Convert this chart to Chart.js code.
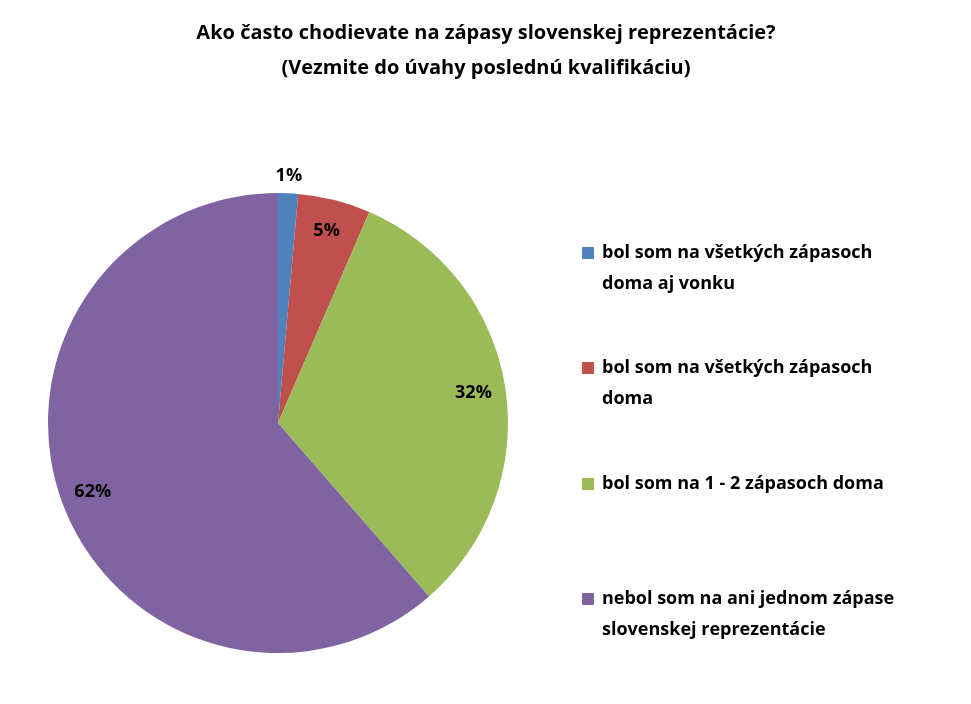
<!DOCTYPE html>
<html><head><meta charset="utf-8">
<script src="https://cdn.jsdelivr.net/npm/chart.js@4/dist/chart.umd.min.js"></script>
<style>html,body{margin:0;background:#fff}#wrap{width:971px;height:704px;position:relative}</style>
</head><body><div id="wrap"><canvas id="c"></canvas></div>
<script>
const titleLines = ['Ako často chodievate na zápasy slovenskej reprezentácie?', '(Vezmite do úvahy poslednú kvalifikáciu)'];
const categories = [
  ['bol som na všetkých zápasoch', 'doma aj vonku'],
  ['bol som na všetkých zápasoch', 'doma'],
  ['bol som na 1 - 2 zápasoch doma'],
  ['nebol som na ani jednom zápase', 'slovenskej reprezentácie']
];
const values = [1.4, 5.1, 32.1, 61.4];
const valueLabels = ['1%', '5%', '32%', '62%'];
const colors = ['#4f81bd', '#c0504d', '#9bbb59', '#8064a2'];

const FONT = '"Open Sans", "Liberation Sans", sans-serif';

const drawExtras = {
  id: 'drawExtras',
  afterDraw(chart) {
    const ctx = chart.ctx;
    ctx.save();
    ctx.fillStyle = '#000';
    ctx.textAlign = 'center';
    ctx.textBaseline = 'middle';
    ctx.font = 'bold 20px ' + FONT;
    titleLines.forEach((t, i) => ctx.fillText(t, 486, 33 + i * 35));

    // value labels
    ctx.font = 'bold 18px ' + FONT;
    chart.getDatasetMeta(0).data.forEach((arc, i) => {
      const p = arc.getProps(['x', 'y', 'startAngle', 'endAngle', 'outerRadius'], true);
      const mid = (p.startAngle + p.endAngle) / 2;
      const r = p.outerRadius * (i === 0 ? 1.075 : 0.86);
      ctx.fillText(valueLabels[i], p.x + Math.cos(mid) * r, p.y + Math.sin(mid) * r);
    });

    // legend
    ctx.textAlign = 'left';
    const tops = [253, 368, 484, 599];
    categories.forEach((lines, i) => {
      ctx.fillStyle = colors[i];
      ctx.fillRect(582, tops[i] - 6, 12, 12);
      ctx.fillStyle = '#000';
      lines.forEach((l, j) => ctx.fillText(l, 602, tops[i] + j * 31));
    });
    ctx.restore();
  }
};

new Chart(document.getElementById('c'), {
  type: 'pie',
  data: { labels: categories.map(c => c.join(' ')), datasets: [{ data: values, backgroundColor: colors, borderWidth: 0 }] },
  options: {
    responsive: true,
    maintainAspectRatio: false,
    animation: false,
    layout: { padding: { left: 48, right: 463, top: 193, bottom: 51 } },
    plugins: { legend: { display: false }, tooltip: { enabled: false } }
  },
  plugins: [drawExtras]
});
</script></body></html>
